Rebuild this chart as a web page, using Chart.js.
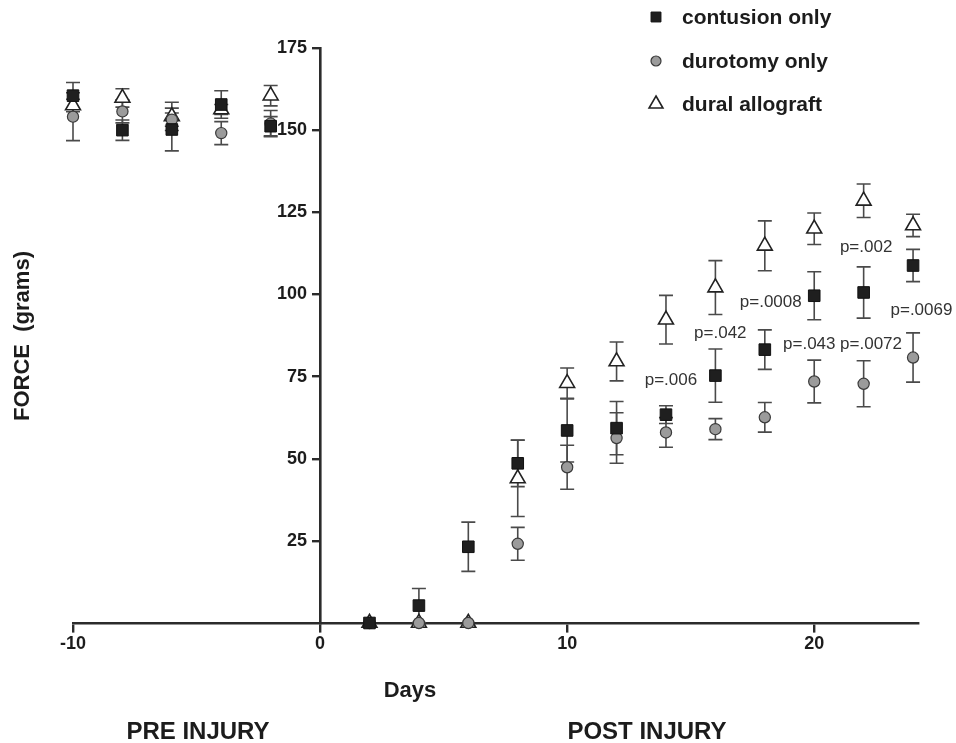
<!DOCTYPE html>
<html><head><meta charset="utf-8">
<script src="https://cdn.jsdelivr.net/npm/chart.js@4.4.1/dist/chart.umd.min.js"></script>
<style>html,body{margin:0;padding:0;background:#fff;}#wrap{width:956px;height:743px;}</style>
</head><body><div id="wrap"><canvas id="c" width="956" height="743"></canvas></div>
<script>
// ---- data ----
const days = [-10, -8, -6, -4, -2, 2, 4, 6, 8, 10, 12, 14, 16, 18, 20, 22, 24];
const contusionMean = [160.5, 150, 150.2, 157.8, 151.2, 0, 5.3, 23.2, 48.6, 58.6, 59.3, 63.4, 75.3, 83.2, 99.6, 100.6, 108.8];
const contusionErr  = [4, 3.1, 6.5, 4.2, 2.9, 0, 5.2, 7.5, 7.1, 9.6, 8.1, 2.7, 8.1, 6, 7.3, 7.8, 4.9];
const durotomyMean  = [154.1, 155.7, 153.2, 149.1, 152, 0, 0, 0, 24.1, 47.4, 56.3, 58, 59, 62.6, 73.5, 72.8, 80.8];
const durotomyErr   = [7.3, 3.5, 2, 3.5, 4, 0, 0, 0, 5, 6.7, 7.7, 4.5, 3.2, 4.5, 6.5, 7, 7.5];
const allograftMean = [157.5, 159.8, 154.2, 156.3, 160.5, 0, 0, 0, 44, 73, 79.6, 92.3, 102.1, 114.8, 120, 128.5, 121];
const allograftErr  = [1.9, 2.8, 4.3, 1.5, 3.1, 0, 0, 0, 11.6, 4.6, 5.9, 7.4, 8.2, 7.6, 4.8, 5.1, 3.4];
const seriesNames = ['contusion only', 'durotomy only', 'dural allograft'];
const xTicks = [-10, 0, 10, 20];
const yTicks = [25, 50, 75, 100, 125, 150, 175];
const pLabels = ['p=.006', 'p=.042', 'p=.0008', 'p=.043', 'p=.0072', 'p=.002', 'p=.0069'];
// annotation anchors (in data units: day, grams)
const pAnchorDay   = [14.2, 16.2, 18.24, 19.8, 22.3, 22.1, 24.34];
const pAnchorGrams = [74, 88.3, 97.5, 84.9, 84.9, 114.4, 95.1];

const FONT = 'Liberation Sans, Arial, Helvetica, sans-serif';
const TXT = '#1c1c1c';
const AX = '#2b2b2b';

function pts(means) { return days.map((d, i) => ({x: d, y: means[i]})); }

const styles = [
  {pointStyle: 'rect', radius: 8.2, bg: '#1f1f1f', bd: '#111', bw: 1},
  {pointStyle: 'circle', radius: 5.6, bg: '#9b9b9b', bd: '#3a3a3a', bw: 1.2},
  {pointStyle: 'triangle', radius: 8.6, bg: '#ffffff', bd: '#222', bw: 1.6}
];
const means = [contusionMean, durotomyMean, allograftMean];
const errs = [contusionErr, durotomyErr, allograftErr];

const datasets = seriesNames.map((n, k) => ({
  label: n,
  data: pts(means[k]),
  errors: errs[k],
  showLine: false,
  pointStyle: styles[k].pointStyle,
  pointRadius: styles[k].radius,
  pointHoverRadius: styles[k].radius,
  pointBackgroundColor: styles[k].bg,
  pointBorderColor: styles[k].bd,
  pointBorderWidth: styles[k].bw,
  clip: false
}));

const errorBars = {
  id: 'errorBars',
  beforeDatasetsDraw(chart) {
    const {ctx, scales: {x, y}} = chart;
    ctx.save();
    ctx.strokeStyle = '#4a4a4a';
    ctx.lineWidth = 1.6;
    for (let k = chart.data.datasets.length - 1; k >= 0; k--) {
      const ds = chart.data.datasets[k];
      ds.data.forEach((p, j) => {
        const e = ds.errors[j];
        if (!e) return;
        const px = x.getPixelForValue(p.x);
        const t = y.getPixelForValue(p.y + e);
        const b = y.getPixelForValue(p.y - e);
        ctx.beginPath();
        ctx.moveTo(px, t); ctx.lineTo(px, b);
        ctx.moveTo(px - 7, t); ctx.lineTo(px + 7, t);
        ctx.moveTo(px - 7, b); ctx.lineTo(px + 7, b);
        ctx.stroke();
      });
    }
    ctx.restore();
  }
};

// shift y tick labels left of the tick marks (position:{x:0} axes ignore tick padding)
const yLabelShift = {
  id: 'yLabelShift',
  beforeDraw(chart) {
    const s = chart.scales.y;
    if (!s._shiftPatched) {
      const orig = s._computeLabelItems;
      s._computeLabelItems = function (ca) {
        const items = orig.call(this, ca);
        const shift = this.options.grid.tickLength + this.options.ticks.padding;
        items.forEach(it => { it.options.translation[0] -= shift; });
        return items;
      };
      s._shiftPatched = true;
      s._labelItems = null;
    }
  }
};

const texts = {
  id: 'texts',
  afterDraw(chart) {
    const {ctx, scales: {x, y}} = chart;
    ctx.save();
    ctx.fillStyle = TXT;
    ctx.textAlign = 'center';
    ctx.textBaseline = 'middle';
    ctx.font = 'bold 22px ' + FONT;
    ctx.fillText('Days', 410, 691);
    ctx.font = 'bold 24px ' + FONT;
    ctx.fillText('PRE INJURY', 198, 732);
    ctx.fillText('POST INJURY', 647, 732);
    ctx.font = 'bold 22px ' + FONT;
    ctx.save();
    ctx.translate(23, 336);
    ctx.rotate(-Math.PI / 2);
    ctx.fillText('FORCE  (grams)', 0, 0);
    ctx.restore();
    // p-values
    ctx.font = '17px ' + FONT;
    ctx.fillStyle = '#333';
    pLabels.forEach((t, i) => {
      ctx.fillText(t, x.getPixelForValue(pAnchorDay[i]), y.getPixelForValue(pAnchorGrams[i]));
    });
    // legend
    const ly = [17, 61, 104];
    const lr = [7, 5, 8];
    ctx.font = 'bold 21px ' + FONT;
    ctx.textAlign = 'left';
    chart.data.datasets.forEach((ds, k) => {
      ctx.fillStyle = styles[k].bg;
      ctx.strokeStyle = styles[k].bd;
      ctx.lineWidth = styles[k].bw;
      Chart.helpers.drawPoint(ctx, {pointStyle: styles[k].pointStyle, radius: lr[k], borderWidth: styles[k].bw}, 656, ly[k]);
      ctx.fillStyle = TXT;
      ctx.fillText(ds.label, 682, ly[k] + 1);
    });
    ctx.restore();
  }
};

const axisCommon = (tl) => ({
  type: 'linear',
  grid: {drawOnChartArea: false, drawTicks: true, tickLength: tl, color: AX, lineWidth: 2.4},
  border: {color: AX, width: 2.6},
});

new Chart(document.getElementById('c'), {
  type: 'scatter',
  data: {datasets},
  options: {
    responsive: false,
    animation: false,
    events: [],
    layout: {padding: {left: 73, right: 38, top: 48, bottom: 120}},
    plugins: {legend: {display: false}, tooltip: {enabled: false}, title: {display: false}},
    scales: {
      x: Object.assign(axisCommon(8), {
        min: -10, max: 24.2,
        position: {y: 0},
        afterBuildTicks: s => { s.ticks = xTicks.map(v => ({value: v})); },
        ticks: {font: {family: FONT, size: 18, weight: 'bold'}, color: TXT, padding: 2, maxRotation: 0}
      }),
      y: Object.assign(axisCommon(7), {
        min: 0, max: 175,
        position: {x: 0},
        afterBuildTicks: s => { s.ticks = yTicks.map(v => ({value: v})); },
        ticks: {font: {family: FONT, size: 18, weight: 'bold'}, color: TXT, padding: 6}
      })
    }
  },
  plugins: [errorBars, yLabelShift, texts]
});
</script></body></html>
